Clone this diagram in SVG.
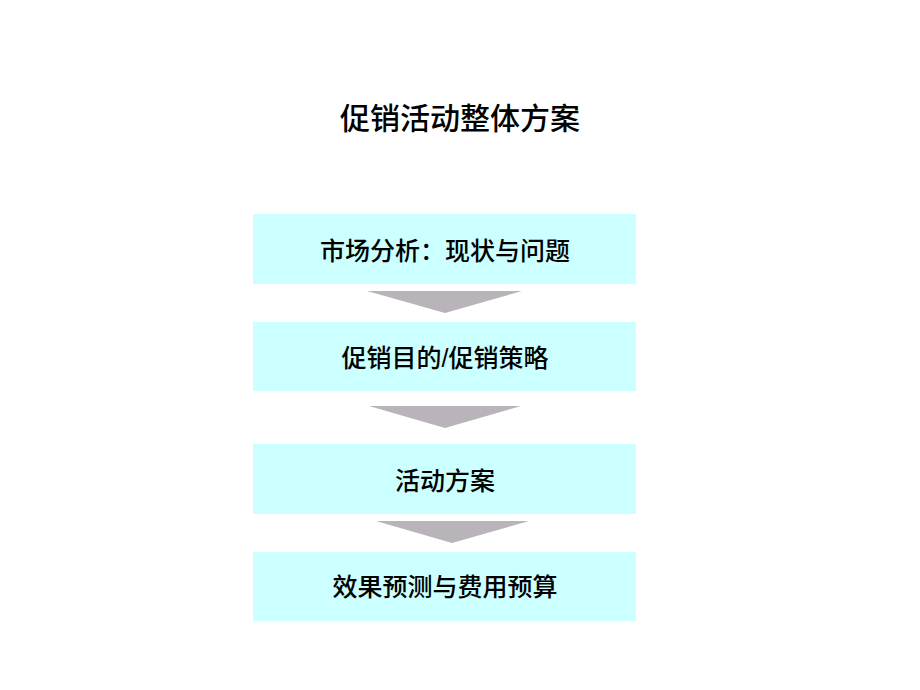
<svg xmlns="http://www.w3.org/2000/svg" width="920" height="690" viewBox="0 0 920 690">
<style>
.box{fill:#ccffff}
.arr{fill:#b9b4ba}
.t{font-family:"Liberation Sans","Noto Sans CJK SC",sans-serif;font-size:25px;font-weight:500;fill:#000;text-anchor:middle}
.title{font-family:"Liberation Sans","Noto Sans CJK SC",sans-serif;font-size:30px;font-weight:500;fill:#000;text-anchor:middle}
</style>
<rect width="920" height="690" fill="#fff"/>
<text class="title" x="460" y="129">促销活动整体方案</text>
<g id="connectors">
<polygon class="arr" points="367,291 522,291 445,313"/>
<polygon class="arr" points="369,406 521,406 445,428"/>
<polygon class="arr" points="376,521 529,521 452,543"/>
</g>
<g id="n1"><rect class="box" x="253" y="214" width="383" height="70"/><text class="t" x="445" y="260">市场分析：现状与问题</text></g>
<g id="n2"><rect class="box" x="253" y="322" width="383" height="69"/><text class="t" x="445" y="367">促销目的/促销策略</text></g>
<g id="n3"><rect class="box" x="253" y="444" width="383" height="70"/><text class="t" x="445" y="490">活动方案</text></g>
<g id="n4"><rect class="box" x="253" y="552" width="383" height="69"/><text class="t" x="445" y="596">效果预测与费用预算</text></g>
</svg>
